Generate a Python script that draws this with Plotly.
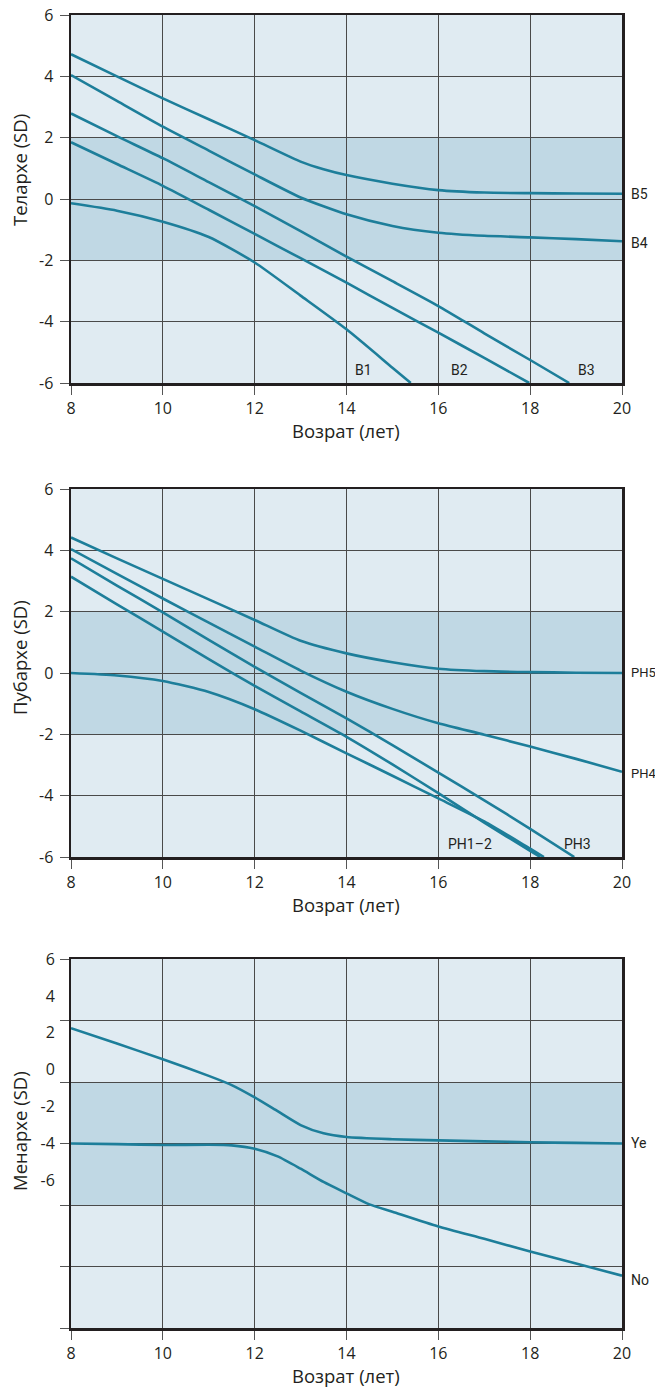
import plotly.graph_objects as go

# ---------------- data ----------------
# Panel 1: Телархе
b5_age = [8, 9, 10, 11, 12, 13, 13.5, 14, 15, 16, 17, 18, 19, 20]
b5_sd = [4.72, 4.0, 3.28, 2.6, 1.92, 1.22, 0.97, 0.78, 0.5, 0.29, 0.21, 0.19, 0.18, 0.17]
b4_age = [8, 9, 10, 11, 12, 13, 14, 15, 16, 17, 18, 19, 20]
b4_sd = [4.04, 3.2, 2.36, 1.58, 0.8, 0.05, -0.5, -0.88, -1.1, -1.2, -1.25, -1.31, -1.38]
b3_age = [8, 9, 10, 11, 12, 13, 14, 15, 16, 17, 18, 18.85]
b3_sd = [2.79, 2.05, 1.33, 0.55, -0.23, -1.05, -1.88, -2.68, -3.49, -4.38, -5.25, -6.0]
b2_age = [8, 9, 10, 11, 12, 13, 14, 15, 16, 17, 17.98]
b2_sd = [1.85, 1.14, 0.43, -0.35, -1.14, -1.93, -2.73, -3.55, -4.36, -5.18, -6.0]
b1_age = [8, 9, 10, 11, 12, 13, 14, 15, 15.4]
b1_sd = [-0.14, -0.38, -0.74, -1.24, -2.07, -3.15, -4.25, -5.5, -6.0]

# Panel 2: Пубархе
ph5_age = [8, 9, 10, 11, 12, 13, 14, 15, 16, 17, 18, 19, 20]
ph5_sd = [4.42, 3.74, 3.07, 2.4, 1.73, 1.05, 0.64, 0.35, 0.14, 0.06, 0.03, 0.01, 0.0]
ph4_age = [8, 9, 10, 11, 12, 13, 14, 15, 16, 17, 18, 19, 20]
ph4_sd = [4.04, 3.23, 2.43, 1.64, 0.86, 0.08, -0.61, -1.17, -1.64, -2.01, -2.4, -2.8, -3.22]
ph3_age = [8, 9, 10, 11, 12, 13, 14, 15, 16, 17, 18, 18.96]
ph3_sd = [3.74, 2.85, 1.98, 1.08, 0.2, -0.65, -1.48, -2.35, -3.25, -4.15, -5.08, -6.0]
ph2_age = [8, 9, 10, 11, 12, 13, 14, 15, 16, 17, 18, 18.22]
ph2_sd = [3.14, 2.24, 1.35, 0.45, -0.42, -1.25, -2.08, -2.98, -3.92, -4.88, -5.8, -6.0]
ph1_age = [8, 9, 10, 11, 12, 13, 14, 15, 16, 17, 18, 18.3]
ph1_sd = [0.0, -0.08, -0.26, -0.62, -1.18, -1.88, -2.62, -3.35, -4.09, -4.84, -5.73, -6.0]

# Panel 3: Менархе
yes_age = [8, 9, 10, 11, 11.5, 12, 12.5, 13, 13.5, 14, 15, 16, 17, 18, 19, 20]
yes_sd = [3.75, 3.25, 2.74, 2.2, 1.9, 1.5, 1.05, 0.6, 0.33, 0.21, 0.14, 0.1, 0.07, 0.04, 0.02, 0.0]
no_age = [8, 9, 10, 11, 11.5, 12, 12.5, 13, 13.5, 14, 14.5, 15, 16, 17, 18, 19, 20]
no_sd = [0.0, -0.02, -0.05, -0.04, -0.06, -0.17, -0.42, -0.82, -1.25, -1.62, -1.98, -2.22, -2.7, -3.1, -3.51, -3.9, -4.3]

x_ticks = [8, 10, 12, 14, 16, 18, 20]
y_ticks = [-6, -4, -2, 0, 2, 4, 6]
y_ticktext = ["-6", "-4", "-2", "0", "2", "4", "6"]
# panel 3 prints its tick labels at shifted positions
men_label_pos = [-1.2, 0, 1.2, 2.4, 3.6, 4.8, 6]
men_label_text = ["-6", "-4", "-2", "0", "2", "4", "6"]

y_titles = ["Телархе (SD)", "Пубархе (SD)", "Менархе (SD)"]
x_title = "Возрат (лет)"

# ---------------- style ----------------
W, H = 655, 1387
LINE = "#1d7e9a"
BG = "#e0ebf2"
BAND = "#c0d8e4"
GRID = "#4a4a4a"
AX = "#231f20"
TXT = "#231f20"
FONT = "Open Sans, Noto Sans, sans-serif"
NARROW = "Liberation Sans Narrow, Roboto, sans-serif"

x0_px, x1_px = 71, 622
panels_px = [(15, 383), (489, 857), (959, 1328)]


def px(p):
    return p / W


def py(p):
    return 1 - p / H


fig = go.Figure()

series = [
    [(b5_age, b5_sd, "y"), (b4_age, b4_sd, "y"), (b3_age, b3_sd, "y"),
     (b2_age, b2_sd, "y"), (b1_age, b1_sd, "y")],
    [(ph5_age, ph5_sd, "y2"), (ph4_age, ph4_sd, "y2"), (ph3_age, ph3_sd, "y2"),
     (ph2_age, ph2_sd, "y2"), (ph1_age, ph1_sd, "y2")],
    [(yes_age, yes_sd, "y4"), (no_age, no_sd, "y3")],
]

for i, group in enumerate(series):
    xa = "x" if i == 0 else f"x{i+1}"
    for ax, sd, ya in group:
        fig.add_trace(go.Scatter(
            x=ax, y=sd, mode="lines", xaxis=xa, yaxis=ya,
            line=dict(color=LINE, width=2.6, shape="spline", smoothing=0.6),
            showlegend=False, hoverinfo="skip", cliponaxis=True,
        ))

layout = dict(
    width=W, height=H, margin=dict(l=0, r=0, t=0, b=0, autoexpand=False),
    paper_bgcolor="white", plot_bgcolor=BG,
    font=dict(family=FONT, size=16, color=TXT),
    showlegend=False,
)

for i, (top, bot) in enumerate(panels_px):
    sfx = "" if i == 0 else str(i + 1)
    layout["xaxis" + sfx] = dict(
        domain=[px(x0_px), px(x1_px)], anchor="y" + sfx, range=[8, 20],
        tickvals=x_ticks, ticks="outside", ticklen=9, tickcolor="#555555", tickwidth=1,
        showgrid=True, gridcolor=GRID, gridwidth=1, zeroline=False,
        showline=True, linecolor=AX, linewidth=2.5, mirror=True,
        tickfont=dict(size=16), fixedrange=True, automargin=False,
        ticklabeloverflow="allow",
    )
    yax = dict(
        domain=[py(bot), py(top)], anchor="x" + sfx, range=[-6, 6],
        tickvals=y_ticks, ticktext=y_ticktext, ticks="outside", ticklen=9,
        tickcolor="#555555", tickwidth=1, ticklabelstandoff=3,
        showgrid=True, gridcolor=GRID, gridwidth=1, zeroline=False,
        showline=True, linecolor=AX, linewidth=2.5, mirror=True,
        tickfont=dict(size=16), fixedrange=True, automargin=False,
        ticklabeloverflow="allow",
    )
    if i == 2:
        yax["showticklabels"] = False
    layout["yaxis" + sfx] = yax

layout["yaxis4"] = dict(
    overlaying="y3", anchor="x3", side="left", range=[-6, 6],
    tickvals=men_label_pos, ticktext=men_label_text,
    ticks="outside", ticklen=9, tickcolor="rgba(0,0,0,0)", ticklabelstandoff=3,
    showgrid=False, zeroline=False, showline=False, tickfont=dict(size=16),
    fixedrange=True, automargin=False, ticklabeloverflow="allow",
)

fig.update_layout(**layout)

# bands -2..2
for i in range(3):
    sfx = "" if i == 0 else str(i + 1)
    fig.add_shape(type="rect", xref=f"x{sfx} domain", yref="y" + sfx,
                  x0=0, x1=1, y0=-2, y1=2, fillcolor=BAND, line_width=0, layer="below")

ann = []
for (top, bot), t, cy in zip(panels_px, y_titles, [170, 658, 1131]):
    ann.append(dict(text=t, x=px(19), y=py(cy), xref="paper", yref="paper",
                    textangle=-90, showarrow=False, font=dict(size=18.5, family=FONT),
                    xanchor="center", yanchor="middle"))
    ann.append(dict(text=x_title, x=px(346), y=py(bot + 47), xref="paper", yref="paper",
                    showarrow=False, font=dict(size=18.5, family=FONT),
                    xanchor="center", yanchor="middle"))

lab_font = dict(size=14, family=NARROW, color=TXT)
ph_font = dict(size=13, family=NARROW, color=TXT)
right_x = px(629)
ann += [
    dict(text="B5", x=right_x, y=0.15, xref="paper", yref="y", xanchor="left", showarrow=False, font=lab_font),
    dict(text="B4", x=right_x, y=-1.43, xref="paper", yref="y", xanchor="left", showarrow=False, font=lab_font),
    dict(text="B1", x=14.38, y=-5.59, xref="x", yref="y", showarrow=False, font=lab_font),
    dict(text="B2", x=16.45, y=-5.59, xref="x", yref="y", showarrow=False, font=lab_font),
    dict(text="B3", x=19.22, y=-5.59, xref="x", yref="y", showarrow=False, font=lab_font),
    dict(text="PH5", x=right_x, y=0.01, xref="paper", yref="y2", xanchor="left", showarrow=False, font=ph_font),
    dict(text="PH4", x=right_x, y=-3.29, xref="paper", yref="y2", xanchor="left", showarrow=False, font=ph_font),
    dict(text="PH1–2", x=16.69, y=-5.57, xref="x2", yref="y2", showarrow=False, font=lab_font),
    dict(text="PH3", x=19.02, y=-5.57, xref="x2", yref="y2", showarrow=False, font=lab_font),
    dict(text="Ye", x=right_x, y=0.02, xref="paper", yref="y3", xanchor="left", showarrow=False, font=lab_font),
    dict(text="No", x=right_x, y=-4.44, xref="paper", yref="y3", xanchor="left", showarrow=False, font=lab_font),
]
fig.update_layout(annotations=ann)

fig.write_html(
    "out.html",
    config={"displayModeBar": False, "staticPlot": True},
    post_script="document.body.style.margin='0';document.body.style.overflow='hidden';",
)
